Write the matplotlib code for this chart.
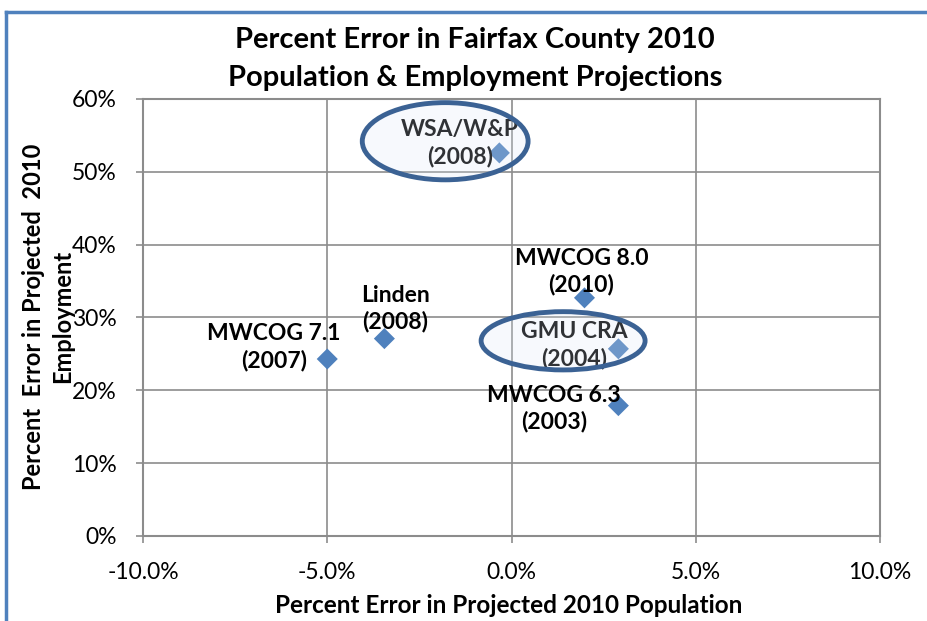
import matplotlib
matplotlib.use("Agg")
import matplotlib.pyplot as plt
from matplotlib.patches import Ellipse
from matplotlib.lines import Line2D
from matplotlib.ticker import FuncFormatter, MultipleLocator

plt.rcParams['font.family'] = ['Lato', 'DejaVu Sans']

# Data
labels = ["MWCOG 7.1\n(2007)", "Linden\n(2008)", "WSA/W&P\n(2008)",
          "MWCOG 8.0\n(2010)", "GMU CRA\n(2004)", "MWCOG 6.3\n(2003)"]
pop_err = [-5.0, -3.45, -0.33, 1.98, 2.9, 2.9]      # percent
emp_err = [24.3, 27.1, 52.6, 32.7, 25.7, 17.9]      # percent
# label centre positions (data units)
label_x = [-6.45, -3.15, -1.4, 1.9, 1.7, 1.15]
label_y = [25.9, 31.2, 53.9, 36.3, 26.2, 17.5]
# highlighted points (ellipse centre x, centre y, width, height)
hl_x = [-1.8, 1.4]
hl_y = [54.2, 26.8]
hl_w = [4.5, 4.45]
hl_h = [10.6, 8.0]

fig = plt.figure(figsize=(9.28, 6.21), dpi=100)
ax = fig.add_axes([0.1541, 0.1369, 0.7942, 0.7037])

ax.set_xlim(-10, 10)
ax.set_ylim(0, 60)
ax.xaxis.set_major_locator(MultipleLocator(5))
ax.yaxis.set_major_locator(MultipleLocator(10))
ax.xaxis.set_major_formatter(FuncFormatter(lambda v, p: f"{v:.1f}%"))
ax.yaxis.set_major_formatter(FuncFormatter(lambda v, p: f"{v:.0f}%"))
ax.grid(True, color='#8c8c8c', linewidth=1.2)
ax.set_axisbelow(True)
for s in ax.spines.values():
    s.set_color('#8c8c8c')
    s.set_linewidth(1.5)
ax.tick_params(direction='out', length=5, color='#8c8c8c', width=1.2,
               labelsize=16.5, pad=14)

ax.scatter(pop_err, emp_err, marker='D', s=115, color='#4f81bd', zorder=3,
           edgecolors='none')

for lx, ly, t in zip(label_x, label_y, labels):
    ax.text(lx, ly, t, ha='center', va='center', fontsize=16.5,
            fontweight='bold', color='black', linespacing=1.3, zorder=4)

for cx, cy, w, h in zip(hl_x, hl_y, hl_w, hl_h):
    ax.add_patch(Ellipse((cx, cy), w, h, facecolor=(0.87, 0.91, 0.97, 0.22),
                         edgecolor='#3b6294', linewidth=3.5, zorder=5))

fig.text(0.512, 0.905, "Percent Error in Fairfax County 2010\nPopulation & Employment Projections",
         ha='center', va='center', fontsize=21, fontweight='bold', linespacing=1.55)
fig.text(0.548, 0.025, "Percent Error in Projected 2010 Population",
         ha='center', va='center', fontsize=17.5, fontweight='bold')
fig.text(0.052, 0.49, "Percent  Error in Projected  2010\nEmployment",
         ha='center', va='center', rotation=90, fontsize=17, fontweight='bold',
         multialignment='center', linespacing=1.3)

# outer blue frame lines
fig.add_artist(Line2D([0.006, 1.0], [0.980, 0.980], color='#4f81bd', linewidth=2.5,
                      transform=fig.transFigure))
fig.add_artist(Line2D([0.007, 0.007], [0.0, 0.980], color='#4f81bd', linewidth=2.5,
                      transform=fig.transFigure))

fig.savefig("out.png", dpi=100)
